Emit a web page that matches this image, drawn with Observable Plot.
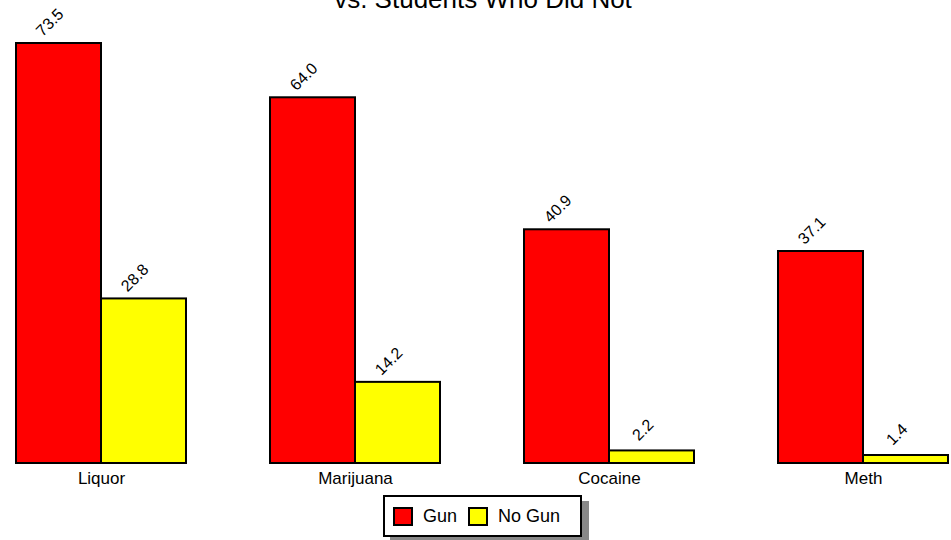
<!DOCTYPE html>
<html><head><meta charset="utf-8">
<script src="https://cdn.jsdelivr.net/npm/d3@7"></script>
<script src="https://cdn.jsdelivr.net/npm/@observablehq/plot@0.6"></script>
<style>
body{margin:0;background:#fff;font-family:"Liberation Sans",Arial,sans-serif;}
#wrap{position:relative;width:951px;height:540px;overflow:hidden;background:#fff;}
#title{position:absolute;left:0;top:-14px;width:966px;text-align:center;font-size:26px;line-height:26px;color:#000;white-space:nowrap;}
#chart{position:absolute;left:0;top:0;}
#legend{position:absolute;left:383px;top:495px;width:199px;height:42px;box-sizing:border-box;border:2px solid #000;background:#fff;box-shadow:7px 6px 0 #888;display:flex;align-items:center;padding-left:8px;font-size:18px;}
.sw{width:20px;height:19px;box-sizing:border-box;border:2px solid #000;display:inline-block;}
.lab{margin-left:10px;margin-right:11px;}
</style></head>
<body>
<div id="wrap">
  <div id="title">vs. Students Who Did Not</div>
  <div id="chart"></div>
  <div id="legend"></div>
</div>
<script>
const categories = ["Liquor", "Marijuana", "Cocaine", "Meth"];
const seriesNames = ["Gun", "No Gun"];
const gunValues = [73.5, 64.0, 40.9, 37.1];
const noGunValues = [28.8, 14.2, 2.2, 1.4];
const seriesColors = ["#ff0000", "#ffff00"];

const data = [];
categories.forEach((c, i) => {
  data.push({category: c, series: seriesNames[0], value: gunValues[i]});
  data.push({category: c, series: seriesNames[1], value: noGunValues[i]});
});

const chart = Plot.plot({
  width: 951,
  height: 492,
  marginTop: 43,
  marginBottom: 29,
  marginLeft: 16,
  marginRight: 3,
  style: {fontFamily: '"Liberation Sans", Arial, sans-serif', background: "transparent", color: "#000"},
  fx: {domain: categories, paddingInner: 84/254, paddingOuter: 0, label: null, axis: "bottom", tickSize: 0, tickPadding: 8, fontSize: 17},
  x: {domain: seriesNames, padding: 0, axis: null},
  y: {domain: [0, d3.max(gunValues)], axis: null},
  color: {domain: seriesNames, range: seriesColors},
  marks: [
    Plot.barY(data, {fx: "category", x: "series", y: "value", fill: "series", stroke: "#000", strokeWidth: 2, inset: 0}),
    Plot.text(data, {fx: "category", x: "series", y: "value", text: d => d.value.toFixed(1), rotate: -45, dx: -9, dy: -21, fontSize: 16, textAnchor: "middle", lineAnchor: "middle", fill: "#000"})
  ]
});
chart.querySelectorAll("[aria-label='fx-axis tick label'] text, g[aria-label='fx-axis tick label']").forEach(el => el.setAttribute("font-size", "17"));
document.getElementById("chart").appendChild(chart);

const legend = document.getElementById("legend");
seriesNames.forEach((s, i) => {
  const sw = document.createElement("span");
  sw.className = "sw";
  sw.style.background = seriesColors[i];
  legend.appendChild(sw);
  const t = document.createElement("span");
  t.className = "lab";
  t.textContent = s;
  legend.appendChild(t);
});
</script>
</body></html>
